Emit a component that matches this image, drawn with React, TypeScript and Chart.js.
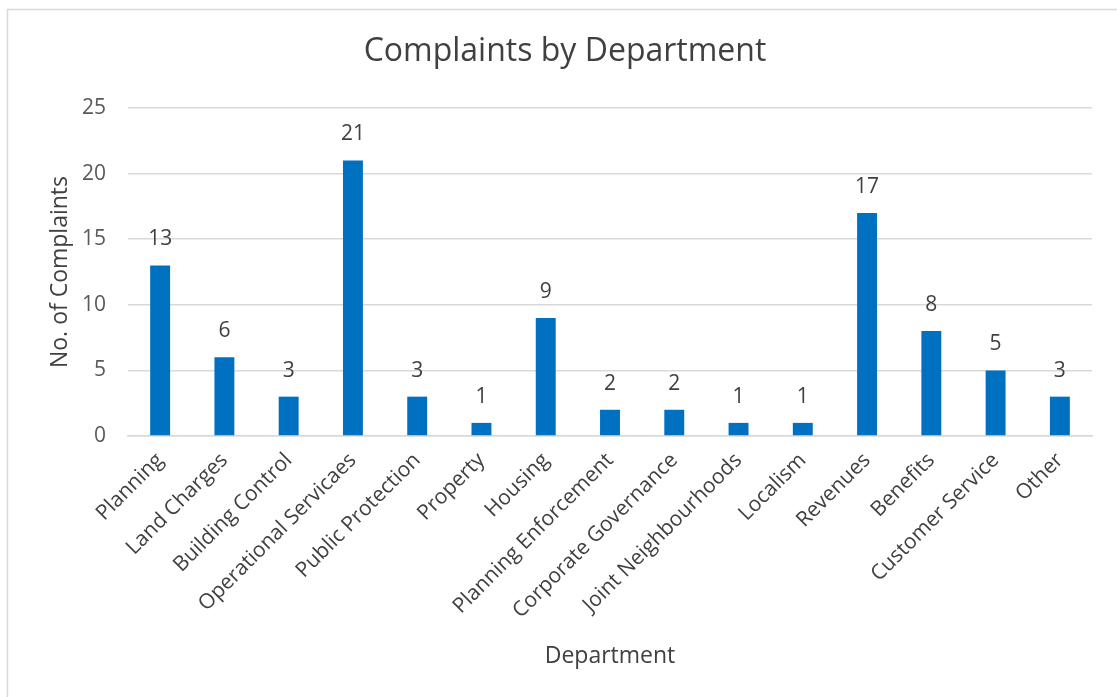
import React, { useEffect, useRef } from "react";
import { Chart, registerables } from "chart.js";

Chart.register(...registerables);

const categories = [
  "Planning",
  "Land Charges",
  "Building Control",
  "Operational Servicaes",
  "Public Protection",
  "Property",
  "Housing",
  "Planning Enforcement",
  "Corporate Governance",
  "Joint Neighbourhoods",
  "Localism",
  "Revenues",
  "Benefits",
  "Customer Service",
  "Other",
];
const complaints = [13, 6, 3, 21, 3, 1, 9, 2, 2, 1, 1, 17, 8, 5, 3];
const yTicks = [0, 5, 10, 15, 20, 25];

const chartTitle = "Complaints by Department";
const xTitle = "Department";
const yTitle = "No. of Complaints";

const FONT = "'Open Sans', 'Noto Sans', sans-serif";
const W = 1117;
const H = 697;

const decorPlugin = {
  id: "decor",
  afterDatasetsDraw(chart: any) {
    const ctx = chart.ctx;
    const area = chart.chartArea;
    ctx.save();
    // frame lines (top and left)
    ctx.strokeStyle = "#d9d9d9";
    ctx.lineWidth = 1.5;
    ctx.beginPath();
    ctx.moveTo(7.5, H);
    ctx.lineTo(7.5, 9.5);
    ctx.lineTo(W, 9.5);
    ctx.stroke();

    // title
    ctx.fillStyle = "#404040";
    ctx.textAlign = "center";
    ctx.textBaseline = "middle";
    ctx.font = `32px ${FONT}`;
    ctx.fillText(chartTitle, 565, 52);

    // axis titles
    ctx.fillStyle = "#404040";
    ctx.font = `23px ${FONT}`;
    ctx.fillText(xTitle, (area.left + area.right) / 2, 656);
    ctx.save();
    ctx.translate(60, (area.top + area.bottom) / 2);
    ctx.rotate(-Math.PI / 2);
    ctx.fillText(yTitle, 0, 0);
    ctx.restore();

    // data labels
    const meta = chart.getDatasetMeta(0);
    ctx.font = `21px ${FONT}`;
    ctx.fillStyle = "#404040";
    ctx.textBaseline = "middle";
    meta.data.forEach((bar: any, i: number) => {
      ctx.fillText(String(complaints[i]), bar.x, bar.y - 26);
    });
    ctx.restore();
  },
};

export default function App() {
  const ref = useRef<HTMLCanvasElement | null>(null);
  useEffect(() => {
    document.body.style.margin = "0";
    const canvas = ref.current;
    if (!canvas) return;
    const chart = new Chart(canvas, {
      type: "bar",
      data: {
        labels: categories,
        datasets: [
          {
            data: complaints,
            backgroundColor: "#0070C0",
            borderWidth: 0,
            barPercentage: 0.31,
            categoryPercentage: 1,
          },
        ],
      },
      options: {
        responsive: false,
        animation: false,
        devicePixelRatio: 1,
        layout: { padding: { left: 0, top: 108, right: 25, bottom: 0 } },
        plugins: {
          legend: { display: false },
          title: { display: false },
          tooltip: { enabled: false },
        },
        scales: {
          x: {
            grid: { display: false, drawTicks: false },
            border: { display: true, color: "#d9d9d9", width: 1.5 },
            ticks: {
              color: "#404040",
              font: { family: FONT, size: 21 },
              minRotation: 45,
              maxRotation: 45,
              autoSkip: false,
              padding: 12,
            },
            afterFit(scale: any) {
              scale.height = H - 436;
            },
          },
          y: {
            min: 0,
            max: 25,
            afterBuildTicks(scale: any) {
              scale.ticks = yTicks.map((v) => ({ value: v }));
            },
            grid: { color: "#d9d9d9", lineWidth: 1.5, drawTicks: false },
            border: { display: false },
            ticks: {
              color: "#595959",
              font: { family: FONT, size: 21 },
              padding: 22,
            },
            afterFit(scale: any) {
              scale.width = 128;
            },
          },
        },
      },
      plugins: [decorPlugin],
    });
    return () => chart.destroy();
  }, []);
  return (
    <div style={{ position: "absolute", left: 0, top: 0, width: W, height: H, background: "#fff" }}>
      <canvas ref={ref} width={W} height={H} style={{ display: "block" }} />
    </div>
  );
}
